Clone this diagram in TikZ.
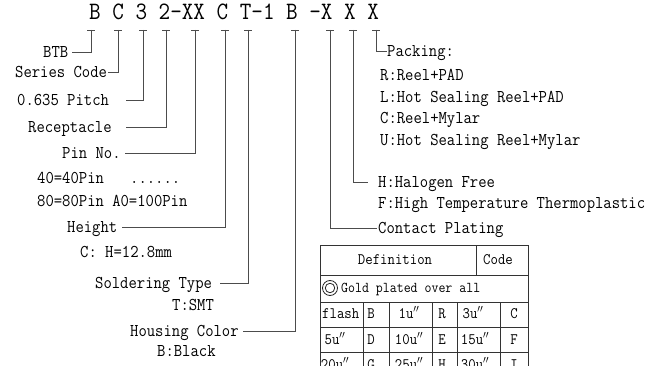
\documentclass[tikz,border=0pt]{standalone}
\usepackage{graphicx}
\newcommand{\nx}[1]{\scalebox{0.9}[1]{#1}}
\newcommand{\dq}{\ensuremath{^{\prime\prime}}}
\tikzset{
  lab/.style={inner sep=0pt, text height=11pt, text depth=0pt,
    font=\fontsize{18}{20}\selectfont\ttfamily},
  cell/.style={inner sep=0pt, text height=9.8pt, text depth=0pt,
    font=\fontsize{16}{18}\selectfont\ttfamily},
  small/.style={inner sep=0pt, text height=9.3pt, text depth=0pt,
    font=\fontsize{15}{17}\selectfont\ttfamily},
  conn/.style={draw=black!70, line width=0.9pt},
  grid/.style={draw=black!80, line width=0.9pt},
  ring/.style={draw=black!85, circle, inner sep=0pt, line width=0.8pt},
}
\begin{document}
\begin{tikzpicture}[x=1pt,y=-1pt]
\useasboundingbox (0,0) rectangle (663,366);
\clip (0,0) rectangle (663,366);
% title
\node[anchor=base west, inner sep=0pt, font=\fontsize{25}{28}\selectfont\ttfamily] (title) at (89,20) {\nx{B C 3 2-XX C T-1 B -X X X}};
% tick tops
\foreach \n/\x in {k1/91,k2/118,k3/143,k4/166,k5/195,k6/225,k7/248,k8/295,k9/330,k10/353,k11/376}
  \coordinate (\n) at (\x,30);
\foreach \n in {k1,k2,k3,k4,k5,k6,k7,k8,k9,k10,k11}
  \draw[conn] ([xshift=-4pt]\n) -- ([xshift=4pt]\n);
% left labels
\node[lab, anchor=west] (btb) at (43,52) {\nx{BTB}};
\node[lab, anchor=west] (series) at (15,72) {\nx{Series Code}};
\node[lab, anchor=west] (pitch) at (17,100) {\nx{0.635 Pitch}};
\node[lab, anchor=west] (recep) at (28,127) {\nx{Receptacle}};
\node[lab, anchor=west] (pin) at (62,153) {\nx{Pin No.}};
\node[lab, anchor=west] (p40) at (37,178) {\nx{40=40Pin}};
\node[lab, anchor=west] (dots) at (130,178) {\nx{......}};
\node[lab, anchor=west] (p80) at (37,201) {\nx{80=80Pin A0=100Pin}};
\node[lab, anchor=west] (height) at (67,227) {\nx{Height}};
\node[lab, anchor=west] (hval) at (80,252) {\nx{C: H=12.8mm}};
\node[lab, anchor=west] (solder) at (95,283) {\nx{Soldering Type}};
\node[lab, anchor=west] (smt) at (172,305) {\nx{T:SMT}};
\node[lab, anchor=west] (housing) at (130,331) {\nx{Housing Color}};
\node[lab, anchor=west] (black) at (157,351) {\nx{B:Black}};
% right labels
\node[lab, anchor=west] (pack) at (387,51) {\nx{Packing:}};
\node[lab, anchor=west] (pr) at (380,75) {\nx{R:Reel+PAD}};
\node[lab, anchor=west] (pl) at (380,97) {\nx{L:Hot Sealing Reel+PAD}};
\node[lab, anchor=west] (pc) at (380,118) {\nx{C:Reel+Mylar}};
\node[lab, anchor=west] (pu) at (380,140) {\nx{U:Hot Sealing Reel+Mylar}};
\node[lab, anchor=west] (halo) at (378,182) {\nx{H:Halogen Free}};
\node[lab, anchor=west] (htt) at (378,203) {\nx{F:High Temperature Thermoplastic}};
\node[lab, anchor=west] (contact) at (378,228) {\nx{Contact Plating}};
% connectors
\draw[conn] (k1) |- ([xshift=4pt]btb.east);
\draw[conn] (k2) |- ([xshift=0.5pt]series.east);
\draw[conn] (k3) |- ([xshift=17pt]pitch.east);
\draw[conn] (k4) |- ([xshift=14pt]recep.east);
\draw[conn] (k5) |- ([xshift=4pt]pin.east);
\draw[conn] (k6) |- ([xshift=5pt]height.east);
\draw[conn] (k7) |- ([xshift=8pt]solder.east);
\draw[conn] (k8) |- ([xshift=4pt]housing.east);
\draw[conn] (k9) |- ([xshift=-1pt]contact.west);
\draw[conn] (k10) |- ([xshift=-10pt]halo.west);
\draw[conn] (k11) |- (pack.west);
% table grid
\draw[grid] (320,245) rectangle (528,380);
\foreach \y in {275,302,327,352} \draw[grid] (320,\y) -- (528,\y);
\draw[grid] (476,245) -- (476,275);
\foreach \x in {363,389,432,457,500} \draw[grid] (\x,302) -- (\x,380);
% table text
\node[cell] (def) at (395,260) {\nx{Definition}};
\node[cell] (code) at (498,260) {\nx{Code}};
\node[ring, minimum size=15pt] (ringo) at (330,288) {};
\node[ring, minimum size=9.5pt] (ringi) at (ringo) {};
\node[small, anchor=west] (gold) at (341,288) {\nx{Gold plated over all}};
\node[cell, anchor=west] (c11) at (322,314) {\nx{flash}};
\node[cell] (c12) at (371,314) {\nx{B}};
\node[cell] (c13) at (409,314) {\nx{1u\dq}};
\node[cell] (c14) at (442,314) {\nx{R}};
\node[cell] (c15) at (473,314) {\nx{3u\dq}};
\node[cell] (c16) at (514,314) {\nx{C}};
\node[cell] (c21) at (335,340) {\nx{5u\dq}};
\node[cell] (c22) at (371,340) {\nx{D}};
\node[cell] (c23) at (409,340) {\nx{10u\dq}};
\node[cell] (c24) at (442,340) {\nx{E}};
\node[cell] (c25) at (475,340) {\nx{15u\dq}};
\node[cell] (c26) at (514,340) {\nx{F}};
\node[cell] (c31) at (335,365) {\nx{20u\dq}};
\node[cell] (c32) at (371,365) {\nx{G}};
\node[cell] (c33) at (409,365) {\nx{25u\dq}};
\node[cell] (c34) at (442,365) {\nx{H}};
\node[cell] (c35) at (475,365) {\nx{30u\dq}};
\node[cell] (c36) at (514,365) {\nx{I}};
\end{tikzpicture}
\end{document}
